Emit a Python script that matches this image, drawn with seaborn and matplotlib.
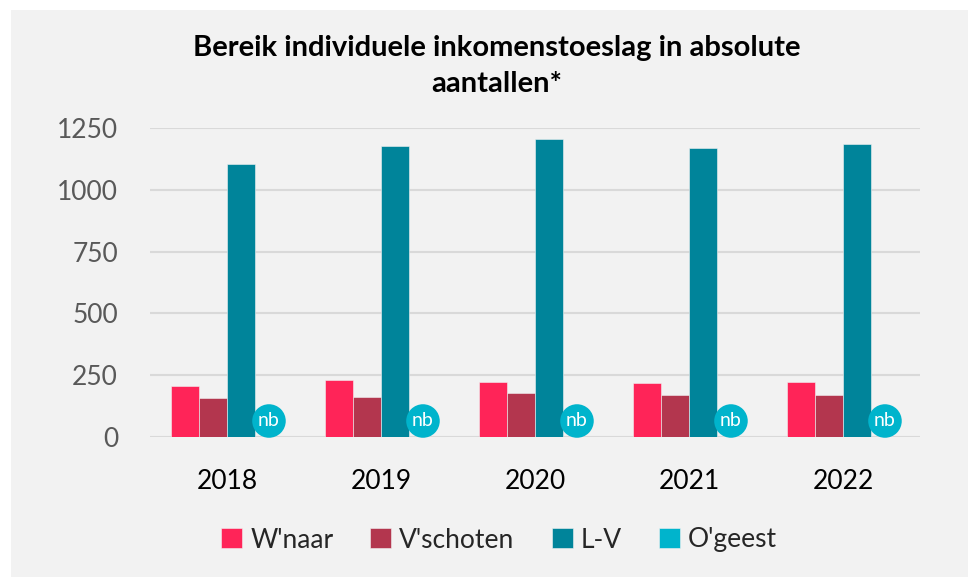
import pandas as pd
import matplotlib.pyplot as plt
import seaborn as sns

years = ["2018", "2019", "2020", "2021", "2022"]
gemeenten = ["W'naar", "V'schoten", "L-V", "O'geest"]
wnaar = [207, 231, 223, 219, 223]
vschoten = [158, 162, 179, 170, 170]
lv = [1104, 1177, 1205, 1169, 1185]
ogeest = [0, 0, 0, 0, 0]  # niet bekend (nb)
colors = ["#FF2458", "#B3364E", "#00849A", "#00B4CC"]

df = pd.DataFrame({"jaar": years * 4,
                   "gemeente": [g for g in gemeenten for _ in years],
                   "aantal": wnaar + vschoten + lv + ogeest})

sns.set_style("white")
plt.rcParams["font.family"] = ["Lato", "DejaVu Sans"]

fig = plt.figure(figsize=(9.68, 5.77), dpi=100, facecolor="white")
fig.patches.append(plt.Rectangle((11 / 968, 0), 1, 1 - 10 / 577, transform=fig.transFigure,
                                 facecolor="#F2F2F2", edgecolor="none", zorder=-1))
ax = fig.add_axes([150 / 968, 1 - 437 / 577, 770 / 968, 309 / 577])
ax.set_facecolor("#F2F2F2")

sns.barplot(data=df, x="jaar", y="aantal", hue="gemeente", palette=colors,
            width=0.727, gap=0, saturation=1, ax=ax, legend=True,
            edgecolor="#F2F2F2", linewidth=0.4)

ax.set_ylim(0, 1250)
ax.set_xlim(-0.5, 4.5)
ax.set_yticks([0, 250, 500, 750, 1000, 1250])
ax.yaxis.grid(True, color="#D9D9D9", linewidth=1.5)
ax.set_axisbelow(True)
for s in ax.spines.values():
    s.set_visible(False)
ax.tick_params(axis="y", labelsize=19, labelcolor="#595959", length=0, pad=23)
ax.tick_params(axis="x", labelsize=19, labelcolor="black", length=0, pad=23)
ax.set_xlabel("")
ax.set_ylabel("")

# "nb" markers op de plek van de O'geest-balken
og_bars = ax.containers[3]
for bar in og_bars:
    xc = bar.get_x() + bar.get_width() / 2
    ax.annotate("nb", xy=(xc, 0), xytext=(0, 16), textcoords="offset pixels",
                ha="center", va="center", color="white", fontsize=14,
                bbox=dict(boxstyle="circle,pad=0.3", facecolor="#00B4CC", edgecolor="none"),
                annotation_clip=False, zorder=5)

ax.legend(loc="center", bbox_to_anchor=(499 / 968, 1 - 540 / 577), bbox_transform=fig.transFigure,
          ncol=4, frameon=False, fontsize=19, handlelength=0.8, handleheight=0.8,
          handletextpad=0.3, columnspacing=1.4)

fig.text(497 / 968, 1 - 66 / 577, "Bereik individuele inkomenstoeslag in absolute\naantallen*",
         ha="center", va="center", fontsize=21, fontweight="bold", color="black", linespacing=1.45)

fig.savefig("out.png", dpi=100, facecolor="white")
